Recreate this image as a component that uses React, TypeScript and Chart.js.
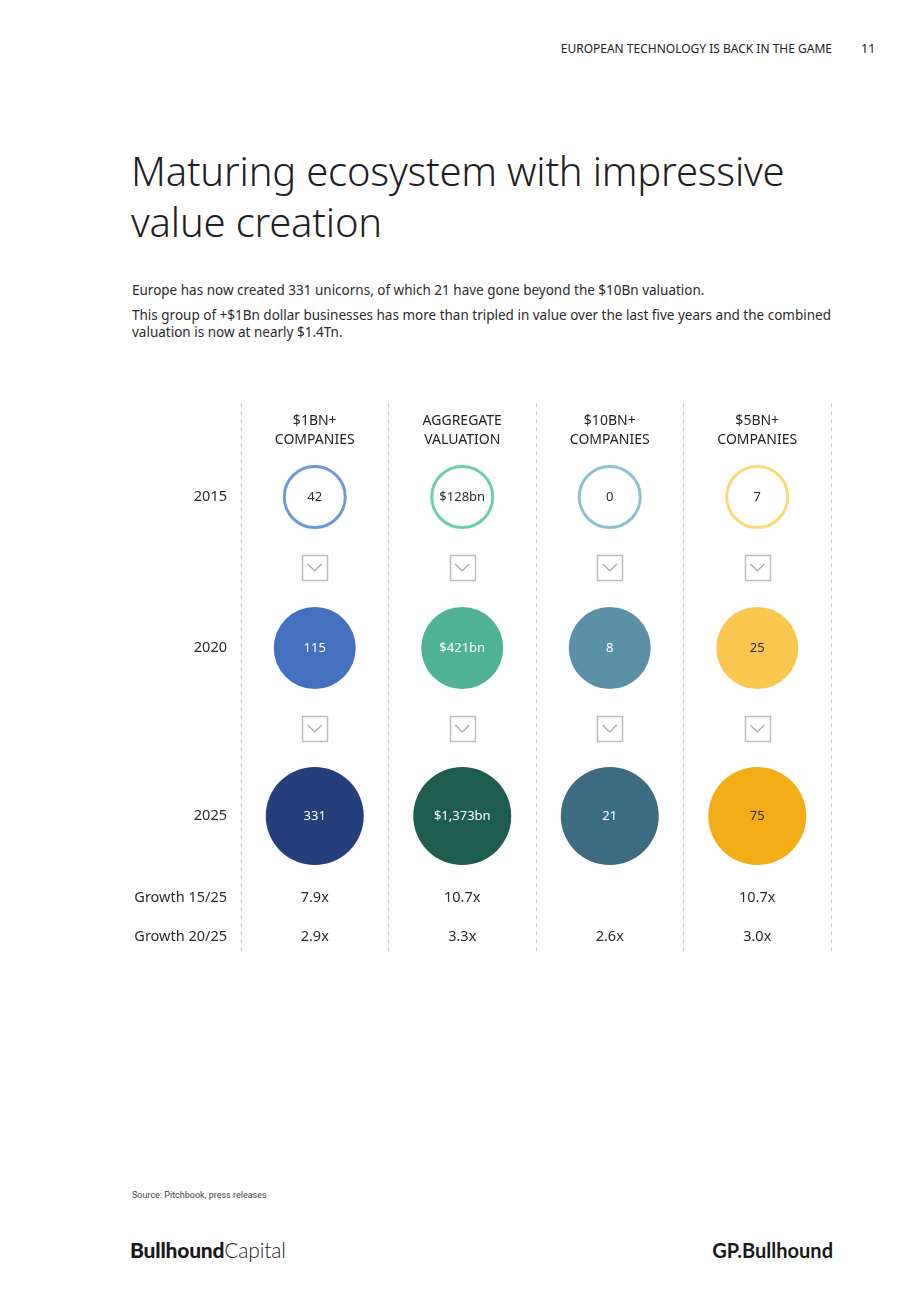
import React, { useEffect, useRef } from "react";
import { Chart, registerables } from "chart.js";

Chart.register(...registerables);

// Column headers (two lines each)
const columnHeaders: string[][] = [
  ["$1BN+", "COMPANIES"],
  ["AGGREGATE", "VALUATION"],
  ["$10BN+", "COMPANIES"],
  ["$5BN+", "COMPANIES"],
];

const years = ["2015", "2020", "2025"];

// Values per metric, ordered 2015, 2020, 2025
const companies1bn = [42, 115, 331];
const aggregateValuationBn = [128, 421, 1373];
const companies10bn = [0, 8, 21];
const companies5bn = [7, 25, 75];

// Growth multiples per metric (null = not shown)
const growth15to25: (number | null)[] = [7.9, 10.7, null, 10.7];
const growth20to25: (number | null)[] = [2.9, 3.3, 2.6, 3.0];

const growthLabels = ["Growth 15/25", "Growth 20/25"];

const seriesValues = [companies1bn, aggregateValuationBn, companies10bn, companies5bn];

// Colours per metric, ordered 2015 (ring), 2020, 2025
const palette = [
  ["#6d9ad6", "#4570bf", "#243f7b"],
  ["#6ccfaa", "#4fb295", "#1e5d4d"],
  ["#8ec2cd", "#5b90a8", "#3d6b7f"],
  ["#fbd97b", "#f9c64f", "#f2ad19"],
];
const labelColours = [
  ["#2b2b2b", "#ffffff", "#ffffff"],
  ["#2b2b2b", "#ffffff", "#ffffff"],
  ["#2b2b2b", "#ffffff", "#ffffff"],
  ["#2b2b2b", "#2b2b2b", "#2b2b2b"],
];

// Vertical layout of the grid (y units = px from the top of the plot area)
const Y_MAX = 549;
const HEADER_Y = [18, 37];
const YEAR_Y = [94, 245, 413];
const ARROW_Y = [164, 325];
const GROWTH_Y = [495, 534];
const BUBBLE_R = [30.5, 41, 49];

const FONT = "'Noto Sans', 'DejaVu Sans', sans-serif";

function formatValue(col: number, v: number): string {
  if (col === 1) return "$" + v.toLocaleString("en-US") + "bn";
  return String(v);
}

const gridTextPlugin = {
  id: "gridText",
  afterDatasetsDraw(chart: any) {
    const { ctx, scales } = chart;
    const xs = scales.x;
    const ys = scales.y;
    ctx.save();
    ctx.textAlign = "center";
    ctx.textBaseline = "middle";

    // headers
    ctx.font = `14px ${FONT}`;
    ctx.fillStyle = "#222";
    columnHeaders.forEach((lines, c) => {
      const x = xs.getPixelForValue(c + 0.5);
      lines.forEach((t, i) => ctx.fillText(t, x, ys.getPixelForValue(HEADER_Y[i])));
    });

    // values inside bubbles
    ctx.font = `13px ${FONT}`;
    chart.data.datasets.forEach((ds: any, c: number) => {
      const meta = chart.getDatasetMeta(c);
      meta.data.forEach((el: any, i: number) => {
        ctx.fillStyle = labelColours[c][i];
        ctx.fillText(formatValue(c, ds.data[i].v), el.x, el.y + 0.5);
      });
    });

    // arrow boxes between years
    columnHeaders.forEach((_, c) => {
      const x = xs.getPixelForValue(c + 0.5);
      ARROW_Y.forEach((yy) => {
        const y = ys.getPixelForValue(yy);
        ctx.strokeStyle = "#bdbdbd";
        ctx.lineWidth = 1.5;
        ctx.strokeRect(Math.round(x - 12.5) + 0.5, Math.round(y - 12.5) + 0.5, 25, 25);
        ctx.strokeStyle = "#a8a8a8";
        ctx.lineWidth = 1.2;
        ctx.beginPath();
        ctx.moveTo(x - 7, y - 3);
        ctx.lineTo(x, y + 4);
        ctx.lineTo(x + 7, y - 3);
        ctx.stroke();
      });
    });

    // growth multiples
    ctx.font = `14.5px ${FONT}`;
    ctx.fillStyle = "#2b2b2b";
    [growth15to25, growth20to25].forEach((row, r) => {
      row.forEach((g, c) => {
        if (g == null) return;
        ctx.fillText(g.toFixed(1) + "x", xs.getPixelForValue(c + 0.5), ys.getPixelForValue(GROWTH_Y[r]));
      });
    });
    ctx.restore();
  },
};

function BubbleGrid() {
  const ref = useRef<HTMLCanvasElement>(null);
  useEffect(() => {
    if (!ref.current) return;
    const rowLabel = new Map<number, string>();
    YEAR_Y.forEach((y, i) => rowLabel.set(y, years[i]));
    GROWTH_Y.forEach((y, i) => rowLabel.set(y, growthLabels[i]));

    const chart = new Chart(ref.current, {
      type: "bubble",
      data: {
        datasets: seriesValues.map((vals, c) => ({
          label: columnHeaders[c].join(" "),
          data: vals.map((v, i) => ({ x: c + 0.5, y: YEAR_Y[i], r: BUBBLE_R[i], v })),
          backgroundColor: (ctx: any) => (ctx.dataIndex === 0 ? "#ffffff" : palette[c][ctx.dataIndex]),
          borderColor: (ctx: any) => palette[c][ctx.dataIndex],
          borderWidth: (ctx: any) => (ctx.dataIndex === 0 ? 3 : 0),
          clip: false,
        })),
      },
      options: {
        animation: false,
        responsive: false,
        events: [],
        layout: { autoPadding: false, padding: { left: 0, right: 89, top: 23, bottom: 28 } },
        plugins: { legend: { display: false }, tooltip: { enabled: false } },
        scales: {
          x: {
            type: "linear",
            min: 0,
            max: 4,
            afterBuildTicks: (s: any) => {
              s.ticks = [0, 1, 2, 3, 4].map((value) => ({ value }));
            },
            afterFit: (s: any) => {
              s.height = 0;
            },
            ticks: { display: false },
            grid: { color: "#cfcfcf", lineWidth: 1, drawTicks: false },
            border: { display: false, dash: [4, 4] },
          },
          y: {
            type: "linear",
            min: 0,
            max: Y_MAX,
            reverse: true,
            afterBuildTicks: (s: any) => {
              s.ticks = [...YEAR_Y, ...GROWTH_Y].map((value) => ({ value }));
            },
            afterFit: (s: any) => {
              s.width = 241;
            },
            ticks: {
              padding: 14,
              color: "#2b2b2b",
              font: { family: FONT, size: 14.5 },
              callback: (v: any) => rowLabel.get(Number(v)) ?? "",
            },
            grid: { display: false, drawTicks: false },
            border: { display: false },
          },
        },
      },
      plugins: [gridTextPlugin],
    });
    return () => chart.destroy();
  }, []);
  return <canvas ref={ref} width={920} height={600} style={{ position: "absolute", left: 0, top: 380, width: 920, height: 600 }} />;
}

export default function App() {
  const text = "#222";
  return (
    <div style={{ position: "absolute", left: 0, top: 0, width: 920, height: 1302, background: "#fff", fontFamily: FONT, color: text, overflow: "hidden" }}>
      <div style={{ position: "absolute", right: 88, top: 41, fontSize: 12, lineHeight: "16px", letterSpacing: 0 }}>
        EUROPEAN TECHNOLOGY IS BACK IN THE GAME
      </div>
      <div style={{ position: "absolute", left: 861, top: 41, fontSize: 12.5, lineHeight: "16px" }}>11</div>

      <div style={{ position: "absolute", left: 131, top: 145, width: 740, fontSize: 40, fontWeight: 300, lineHeight: "51px", letterSpacing: -0.2, color: "#1f1f1f" }}>
        Maturing ecosystem with impressive
        <br />
        value creation
      </div>

      <div style={{ position: "absolute", left: 132, top: 282, width: 710, fontSize: 13.5, lineHeight: "17px", color: "#2b2b2b" }}>
        <div>Europe has now created 331 unicorns, of which 21 have gone beyond the $10Bn valuation.</div>
        <div style={{ marginTop: 8 }}>
          This group of +$1Bn dollar businesses has more than tripled in value over the last five years and the combined valuation is now at nearly $1.4Tn.
        </div>
      </div>

      <BubbleGrid />

      <div style={{ position: "absolute", left: 132, top: 1189, fontSize: 9, lineHeight: "12px", color: "#444", fontFamily: "Roboto, sans-serif" }}>
        Source: Pitchbook, press releases
      </div>

      <div style={{ position: "absolute", left: 130, top: 1237, fontSize: 21, lineHeight: "26px", color: "#1a1a1a", fontFamily: "Lato, sans-serif", letterSpacing: -0.2 }}>
        <span style={{ fontWeight: 900 }}>Bullhound</span>
        <span style={{ fontWeight: 300 }}>Capital</span>
      </div>
      <div style={{ position: "absolute", right: 87, top: 1237, fontSize: 20, lineHeight: "26px", color: "#1a1a1a", fontFamily: "Lato, sans-serif", fontWeight: 700 }}>
        GP.Bullhound
      </div>
    </div>
  );
}
